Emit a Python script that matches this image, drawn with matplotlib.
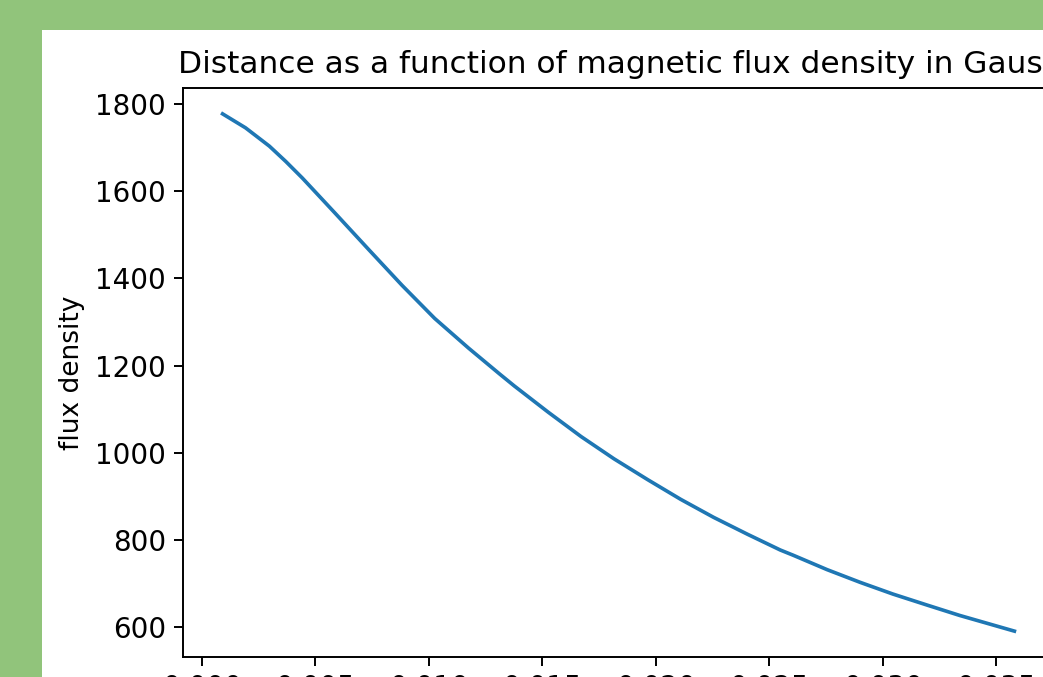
import matplotlib
matplotlib.use("Agg")
import matplotlib.pyplot as plt
from matplotlib.patches import Rectangle

# distance (m) vs flux density (Gauss)
distance = [0.00092, 0.00193, 0.00298, 0.00370, 0.00443, 0.00588, 0.00737,
            0.00882, 0.01026, 0.01175, 0.01311, 0.01377, 0.01526, 0.01671,
            0.01816, 0.01965, 0.02110, 0.02254, 0.02404, 0.02548, 0.02605,
            0.02754, 0.02899, 0.03044, 0.03193, 0.03338, 0.03579]
flux = [1777, 1745, 1703, 1668, 1630, 1549, 1465,
        1384, 1308, 1240, 1181, 1153, 1093, 1037,
        986, 938, 893, 852, 813, 777, 765,
        732, 703, 676, 651, 627, 591]
xticks = [0.000, 0.005, 0.010, 0.015, 0.020, 0.025, 0.030, 0.035]
xtick_labels = ["0.000", "0.005", "0.010", "0.015", "0.020", "0.025",
                "0.030", "0.035"]

s = 1.75  # the screenshot is a blown-up notebook figure
plt.rcParams.update({
    "font.size": 20,
    "axes.titlesize": 22.5,
    "axes.labelsize": 19,
    "axes.linewidth": 0.8 * s,
    "lines.linewidth": 1.5 * s,
    "xtick.major.size": 3.5 * s,
    "ytick.major.size": 3.5 * s,
    "xtick.major.width": 0.8 * s,
    "ytick.major.width": 0.8 * s,
    "xtick.major.pad": 3.5 * s,
    "ytick.major.pad": 3.5 * s,
})

fig = plt.figure(figsize=(10.43, 6.77), dpi=100, facecolor="#91c47b")
fig.add_artist(Rectangle((42 / 1043, 0), 1, 1 - 30 / 677,
                         transform=fig.transFigure, fc="white", ec="none",
                         zorder=-10))

ax = fig.add_axes([183 / 1043, 20 / 677, 871 / 1043, 569 / 677])
ax.plot(distance, flux)
ax.set_xticks(xticks)
ax.set_xticklabels(xtick_labels)
ax.set_ylabel("flux density", labelpad=4 * s)
ax.set_title("Distance as a function of magnetic flux density in Gauss",
             pad=6 * s)

fig.savefig("out.png", dpi=100, facecolor=fig.get_facecolor())
